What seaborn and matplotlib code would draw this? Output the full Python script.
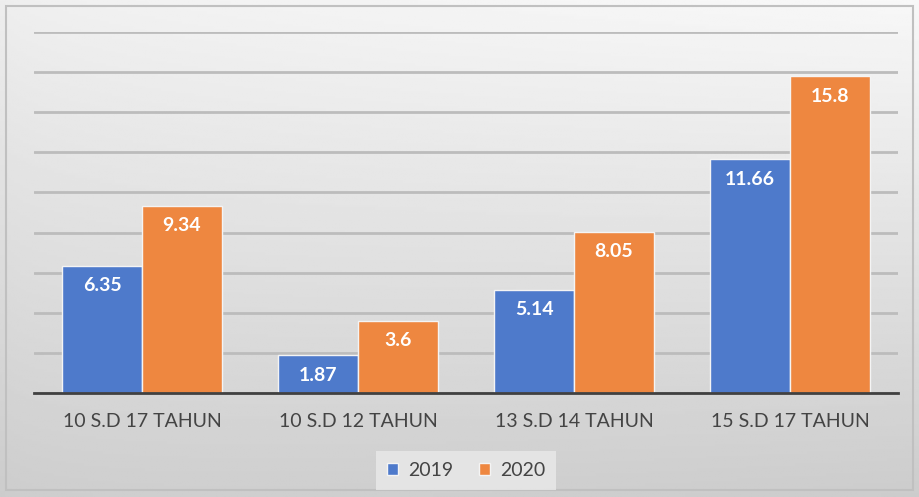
import numpy as np
import pandas as pd
import matplotlib.pyplot as plt
import seaborn as sns
from matplotlib.patches import Rectangle

categories = ['10 S.D 17 TAHUN', '10 S.D 12 TAHUN', '13 S.D 14 TAHUN', '15 S.D 17 TAHUN']
values_2019 = [6.35, 1.87, 5.14, 11.66]
values_2020 = [9.34, 3.6, 8.05, 15.8]
years = ['2019', '2020']
colors = ['#4E7ACB', '#EE8740']

df = pd.DataFrame({
    'kategori': categories * 2,
    'nilai': values_2019 + values_2020,
    'tahun': [years[0]] * 4 + [years[1]] * 4,
})

sns.set_style("white")
plt.rcParams['font.family'] = ['Lato', 'DejaVu Sans']

fig = plt.figure(figsize=(9.19, 4.97), dpi=100)

# gradient background
bg = fig.add_axes([0, 0, 1, 1], zorder=-10)
gx = np.linspace(0, 1, 300)
gy = np.linspace(1, 0, 200)
X, Y = np.meshgrid(gx, gy)
shade = 0.80 + 0.13 * Y + 0.04 * np.sqrt(X) - 0.04 * (1 - Y) * X
bg.imshow(shade, cmap='gray', vmin=0, vmax=1, aspect='auto', extent=[0, 1, 0, 1], origin='upper')
bg.add_patch(Rectangle((0.006, 0.014), 0.988, 0.974, fill=False, edgecolor='#c0c0c0', lw=1.5))
bg.set_xlim(0, 1)
bg.set_ylim(0, 1)
bg.axis('off')

ax = fig.add_axes([34 / 919, 1 - 393 / 497, 864 / 919, 361 / 497])
ax.patch.set_alpha(0)

sns.barplot(data=df, x='kategori', y='nilai', hue='tahun', palette=colors,
            width=0.74, edgecolor='#f4f4f4', linewidth=1.0, saturation=1, ax=ax)

ax.set_ylim(0, 18)
ax.set_xlim(-0.5, 3.5)
ax.set_yticks(np.arange(0, 19, 2))
ax.yaxis.grid(True, color='#bcbcbc', lw=2.0)
ax.set_axisbelow(True)
ax.tick_params(axis='y', left=False, labelleft=False)
ax.tick_params(axis='x', bottom=False, labelsize=14, labelcolor='#444444', pad=11)
for s in ['top', 'right', 'left']:
    ax.spines[s].set_visible(False)
ax.spines['bottom'].set_color('#404040')
ax.spines['bottom'].set_linewidth(2.0)
ax.set_xlabel('')
ax.set_ylabel('')

for cont in ax.containers:
    for bar in cont:
        h = bar.get_height()
        ax.text(bar.get_x() + bar.get_width() / 2, h - 1.0, f'{h:g}',
                ha='center', va='center', color='white', fontsize=14, fontweight='bold')

leg = ax.legend(loc='upper center', bbox_to_anchor=(0.5, -0.135), ncol=2, frameon=True,
                fontsize=14, handlelength=0.6, handleheight=0.6, columnspacing=1.3,
                handletextpad=0.5, borderpad=0.55, fancybox=False)
leg.get_frame().set_facecolor('#e8e8e8')
leg.get_frame().set_edgecolor('none')
leg.get_frame().set_alpha(0.85)
for t in leg.get_texts():
    t.set_color('#444444')

fig.savefig('out.png', dpi=100)
